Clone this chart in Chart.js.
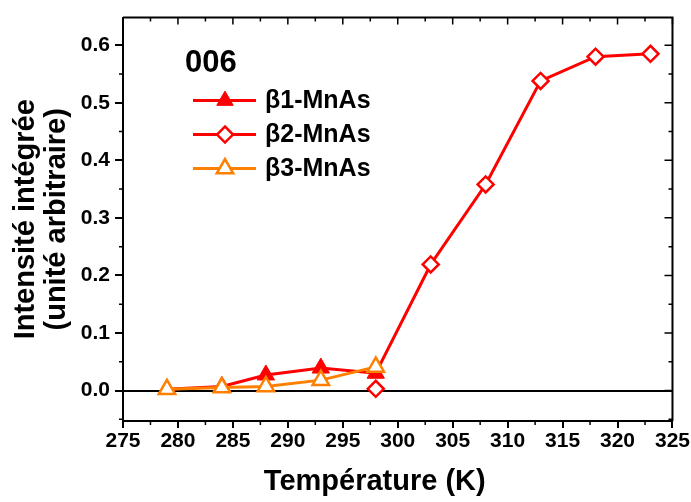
<!DOCTYPE html>
<html>
<head>
<meta charset="utf-8">
<script src="https://cdn.jsdelivr.net/npm/chart.js@4.4.1/dist/chart.umd.min.js"></script>
<style>
  html, body { margin: 0; padding: 0; background: #fff; }
  canvas { display: block; }
</style>
</head>
<body>
<canvas id="chart" width="691" height="502"></canvas>
<script>
// data
const temps1 = [279, 284, 288, 293, 298, 303];
const beta1 = [0.002, 0.007, 0.027, 0.039, 0.030, 0.219];
const temps2 = [298, 303, 308, 313, 318, 323];
const beta2 = [0.003, 0.219, 0.358, 0.538, 0.580, 0.585];
const temps3 = [279, 284, 288, 293, 298];
const beta3 = [0.002, 0.005, 0.007, 0.018, 0.041];

const seriesNames = ["\u03b21-MnAs", "\u03b22-MnAs", "\u03b23-MnAs"];
const xTicks = [275, 280, 285, 290, 295, 300, 305, 310, 315, 320, 325];
const yTicks = [0.0, 0.1, 0.2, 0.3, 0.4, 0.5, 0.6];
const panelLabel = "006";
const xTitle = "Température (K)";
const yTitle = ["Intensité intégrée", "(unité arbitraire)"];

const FONT = "'Liberation Sans', Arial, Helvetica, sans-serif";
const RED = "#ff0000";
const ORANGE = "#ff8000";

const toPoints = (xs, ys) => xs.map((x, i) => ({ x: x, y: ys[i] }));

// frame: top/right lines, minor ticks, inward ticks, x title
const framePlugin = {
    id: "frame",
    afterDraw(chart) {
        const { ctx, chartArea: a, scales: { x, y } } = chart;
        ctx.save();
        ctx.strokeStyle = "#000";
        ctx.lineWidth = 2;
        ctx.beginPath();
        ctx.moveTo(a.left, a.top);
        ctx.lineTo(a.right, a.top);
        ctx.lineTo(a.right, a.bottom);
        ctx.stroke();

        ctx.lineWidth = 1.5;
        ctx.beginPath();
        xTicks.forEach((t, i) => {
            const px = x.getPixelForValue(t);
            ctx.moveTo(px, a.top);
            ctx.lineTo(px, a.top + 7);
            if (i < xTicks.length - 1) {
                const mx = x.getPixelForValue((t + xTicks[i + 1]) / 2);
                ctx.moveTo(mx, a.top);
                ctx.lineTo(mx, a.top + 4);
                ctx.moveTo(mx, a.bottom);
                ctx.lineTo(mx, a.bottom + 4);
            }
        });
        const yAll = [-0.1].concat(yTicks);
        yAll.forEach((t, i) => {
            const py = y.getPixelForValue(t);
            if (t >= 0) {
                ctx.moveTo(a.right, py);
                ctx.lineTo(a.right - 8, py);
            }
            if (i < yAll.length - 1) {
                const my = y.getPixelForValue((t + yAll[i + 1]) / 2);
                if (my <= a.bottom) {
                    ctx.moveTo(a.left, my);
                    ctx.lineTo(a.left - 4, my);
                    ctx.moveTo(a.right, my);
                    ctx.lineTo(a.right - 4, my);
                }
            }
        });
        ctx.stroke();

        ctx.fillStyle = "#000";
        ctx.font = "bold 29px " + FONT;
        ctx.textAlign = "center";
        ctx.textBaseline = "middle";
        ctx.fillText(xTitle, (a.left + a.right) / 2 - 23, 482);
        ctx.restore();
    }
};

// legend inside the plot
const legendPlugin = {
    id: "insideLegend",
    afterDraw(chart) {
        const { ctx, chartArea: a } = chart;
        ctx.save();
        ctx.fillStyle = "#000";
        ctx.textBaseline = "middle";
        ctx.textAlign = "left";
        ctx.font = "bold 31px " + FONT;
        ctx.fillText(panelLabel, a.left + 62, a.top + 46);

        ctx.font = "bold 25px " + FONT;
        chart.data.datasets.forEach((ds, row) => {
            const yy = a.top + 83 + row * 34;
            const x0 = a.left + 70;
            ctx.strokeStyle = ds.borderColor;
            ctx.lineWidth = ds.borderWidth;
            ctx.beginPath();
            ctx.moveTo(x0, yy);
            ctx.lineTo(x0 + 63, yy);
            ctx.stroke();

            ctx.fillStyle = ds.pointBackgroundColor;
            ctx.strokeStyle = ds.pointBorderColor;
            ctx.lineWidth = ds.pointBorderWidth;
            Chart.helpers.drawPoint(ctx, {
                pointStyle: ds.pointStyle,
                radius: ds.legendRadius,
                borderWidth: ds.pointBorderWidth,
                rotation: 0
            }, x0 + 32, yy);

            ctx.fillStyle = "#000";
            ctx.fillText(seriesNames[row], x0 + 72, yy + 1);
        });
        ctx.restore();
    }
};

new Chart(document.getElementById("chart"), {
    type: "line",
    data: {
        datasets: [
            {
                label: seriesNames[0],
                data: toPoints(temps1, beta1),
                borderColor: RED,
                borderWidth: 3,
                pointStyle: "triangle",
                pointRadius: ctx => (ctx.dataIndex === temps1.length - 1 ? 0 : 10),
                legendRadius: 9.5,
                pointBackgroundColor: RED,
                pointBorderColor: RED,
                pointBorderWidth: 1,
                order: 2
            },
            {
                label: seriesNames[1],
                data: toPoints(temps2, beta2),
                borderColor: RED,
                borderWidth: 3,
                pointStyle: "rectRot",
                pointRadius: 8,
                legendRadius: 8,
                pointBackgroundColor: "#fff",
                pointBorderColor: RED,
                pointBorderWidth: 2.5,
                segment: {
                    borderColor: ctx => (ctx.p0DataIndex === 0 ? "rgba(0,0,0,0)" : undefined)
                },
                order: 1
            },
            {
                label: seriesNames[2],
                data: toPoints(temps3, beta3),
                borderColor: ORANGE,
                borderWidth: 3,
                pointStyle: "triangle",
                pointRadius: 9.5,
                legendRadius: 9.5,
                pointBackgroundColor: "#fff",
                pointBorderColor: ORANGE,
                pointBorderWidth: 2.5,
                order: 0
            }
        ]
    },
    options: {
        responsive: false,
        animation: false,
        layout: { padding: { top: 12, right: 18, left: 0, bottom: 0 } },
        plugins: { legend: { display: false }, tooltip: { enabled: false } },
        elements: { line: { tension: 0 } },
        scales: {
            x: {
                type: "linear",
                min: 275,
                max: 325,
                afterBuildTicks: axis => { axis.ticks = xTicks.map(v => ({ value: v })); },
                afterFit: axis => { axis.height = 81; },
                grid: { drawOnChartArea: false, tickLength: 7, tickColor: "#000", lineWidth: 2 },
                border: { color: "#000", width: 2 },
                ticks: {
                    color: "#000",
                    padding: 1,
                    maxRotation: 0,
                    autoSkip: false,
                    font: { family: FONT, size: 21, weight: "bold" },
                    callback: v => String(v)
                },
                title: { display: false }
            },
            y: {
                min: -0.053,
                max: 0.648,
                afterBuildTicks: axis => { axis.ticks = yTicks.map(v => ({ value: v })); },
                afterFit: axis => { axis.width = 123; },
                grid: {
                    color: ctx => (ctx.tick && ctx.tick.value === 0 ? "#000" : "rgba(0,0,0,0)"),
                    tickColor: "#000",
                    tickLength: 8,
                    lineWidth: 2
                },
                border: { color: "#000", width: 2 },
                ticks: {
                    color: "#000",
                    padding: 5,
                    autoSkip: false,
                    font: { family: FONT, size: 21, weight: "bold" },
                    callback: v => v.toFixed(1)
                },
                title: {
                    display: true,
                    text: yTitle,
                    color: "#000",
                    font: { family: FONT, size: 29, weight: "bold", lineHeight: 1.08 },
                    padding: { top: 10, bottom: 0 }
                }
            }
        }
    },
    plugins: [framePlugin, legendPlugin]
});
</script>
</body>
</html>
